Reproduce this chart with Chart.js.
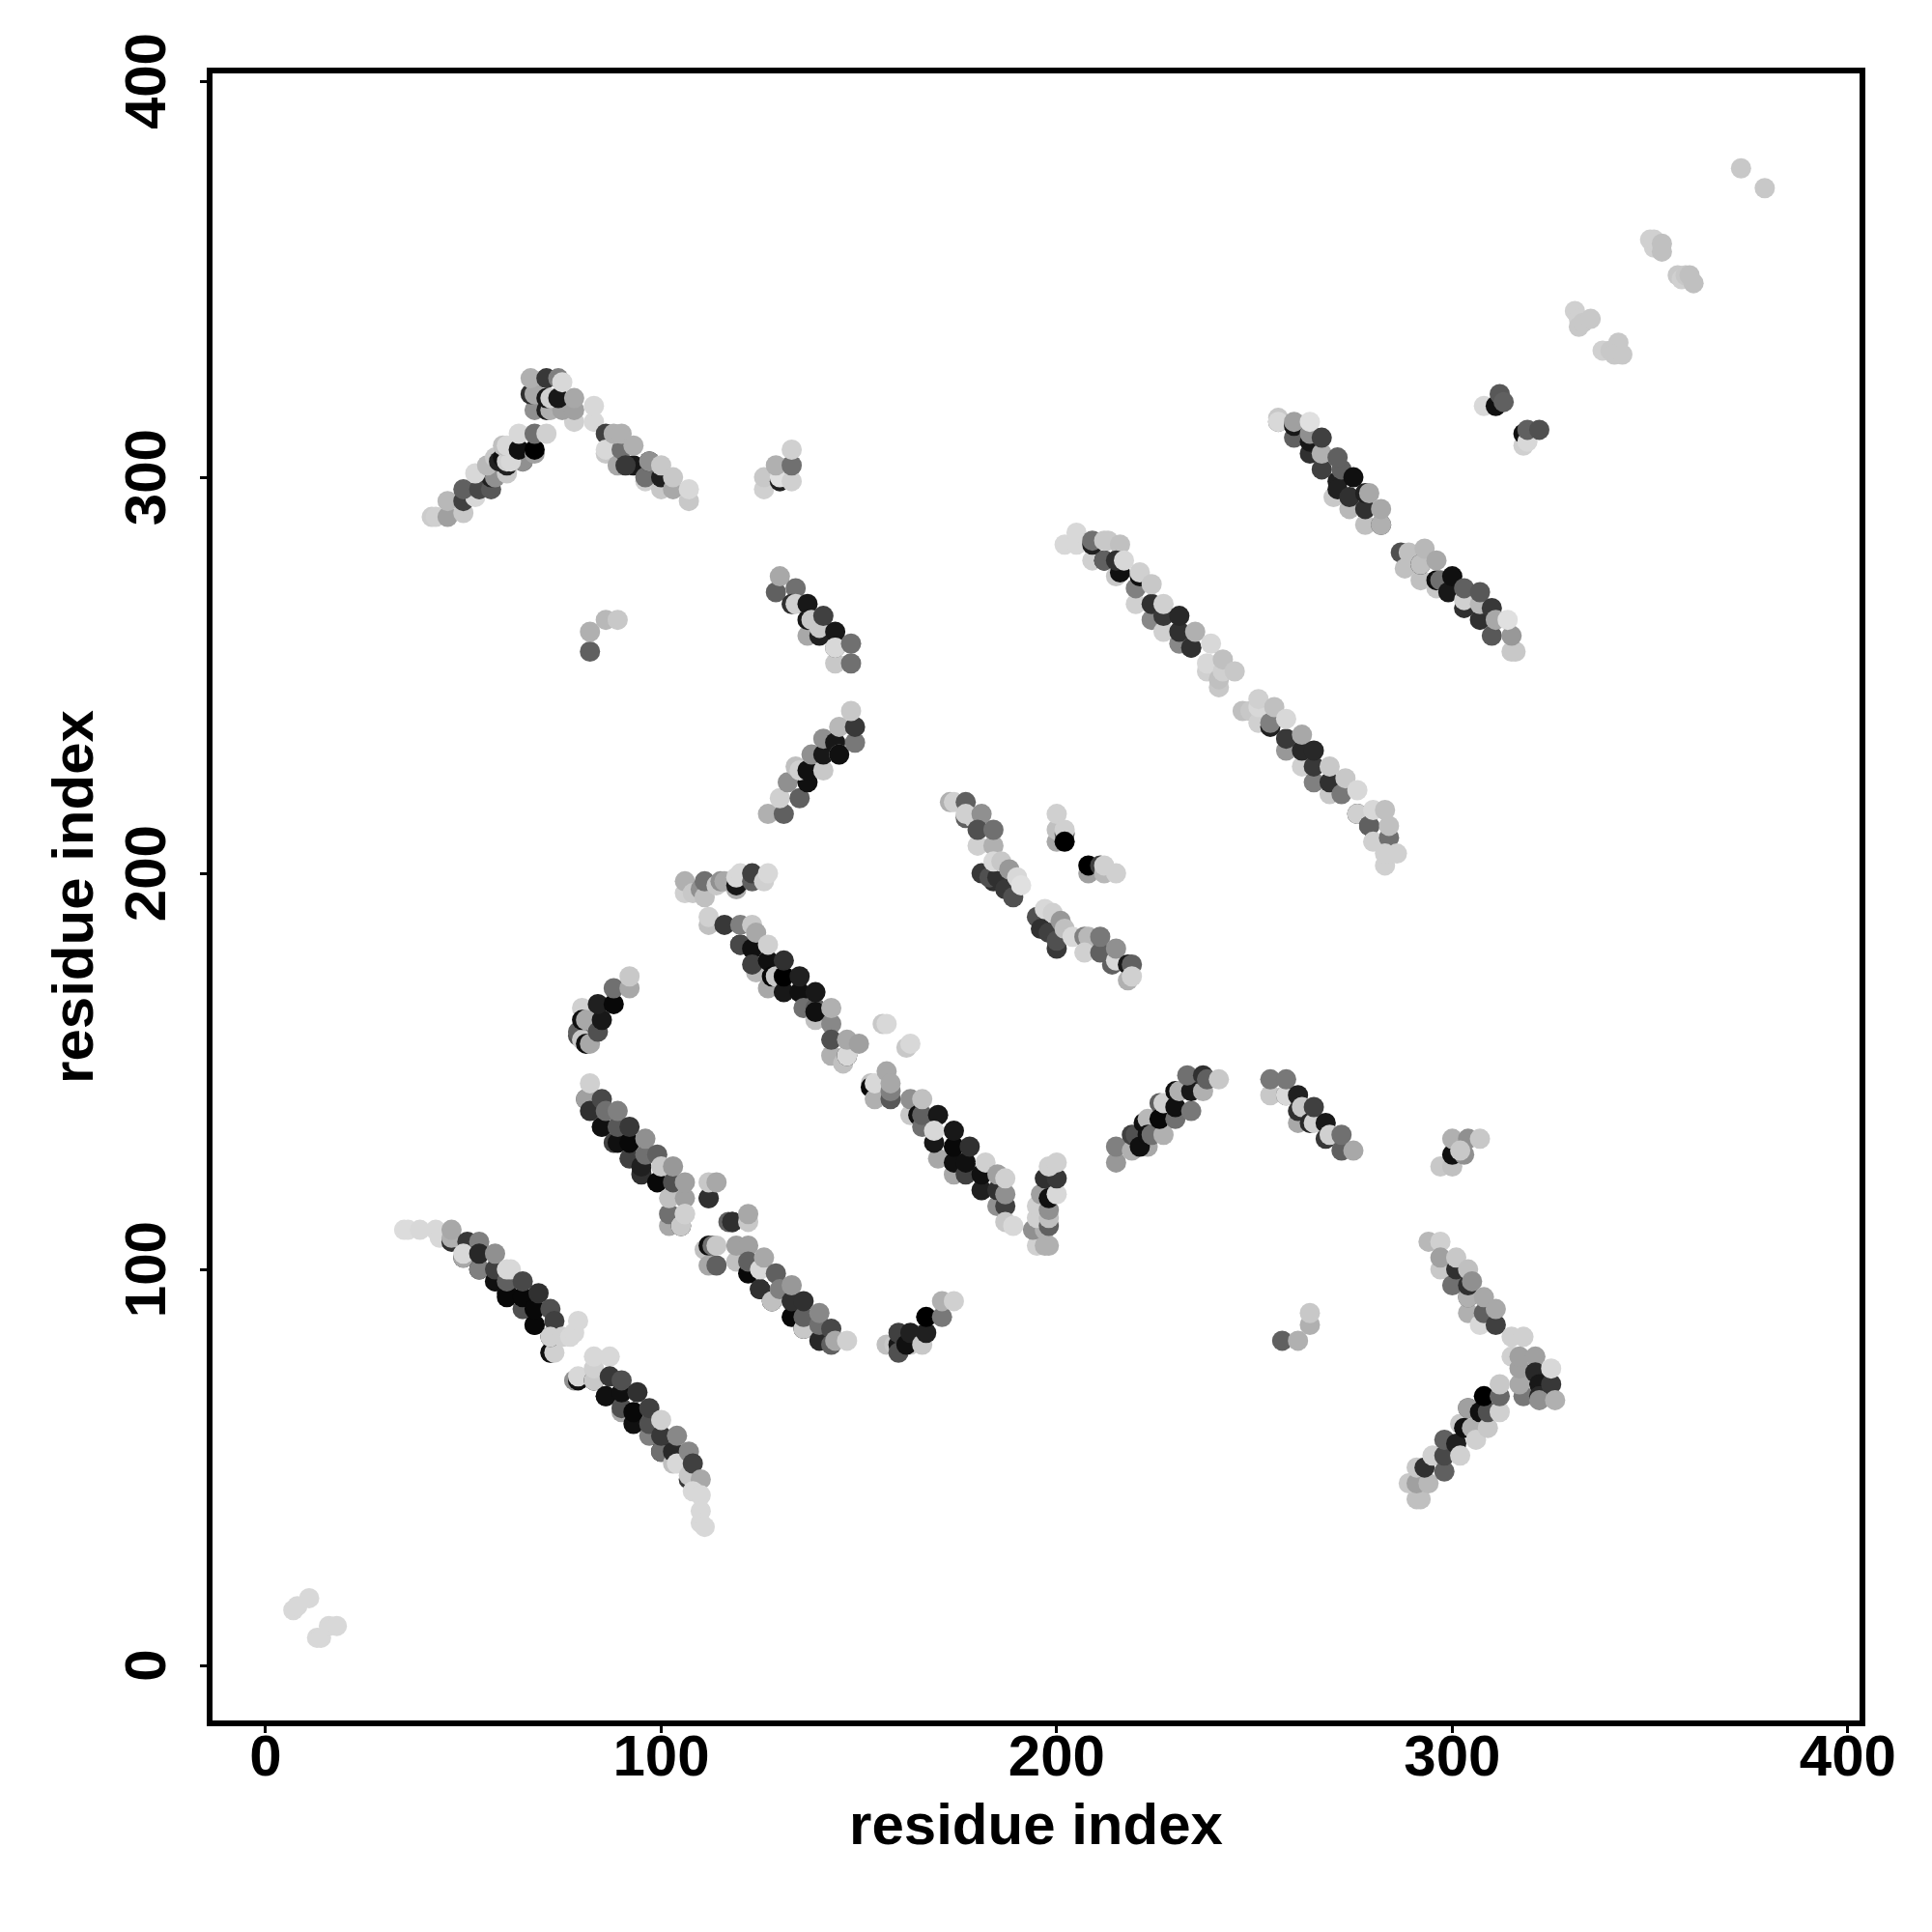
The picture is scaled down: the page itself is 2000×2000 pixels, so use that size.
<!DOCTYPE html>
<html>
<head>
<meta charset="utf-8">
<title>residue contacts</title>
<script src="https://cdn.jsdelivr.net/npm/chart.js@4"></script>
<style>
  html, body { margin: 0; background: #fff; }
  canvas { display: block; }
</style>
</head>
<body>
<canvas id="contacts" width="2000" height="2000"></canvas>
<script>
// every contact is [residue i, residue j, grey level], later ones paint on top
const tickValues = [0, 100, 200, 300, 400];
const axisLabel = "residue index";

const cornerLow = [[7,14,216],[8,15,216],[11,17,216],[13,7,216],[14,7,216],[16,10,216],[18,10,216]];
const riseTopLeft = [[42,290,204],[43,290,208],[46,290,160],[50,291,200],[46,294,184],[50,294,64],[53,295,216],[50,297,96],[54,297,72],[57,297,88],[57,300,32],[58,300,144],[53,301,216],[61,301,200],[61,303,32],[56,303,184],[65,304,80],[65,304,144],[58,305,200],[59,304,32],[60,305,16],[61,304,208],[62,304,216],[60,308,192],[61,308,216],[64,307,16],[68,306,160],[68,307,0],[64,311,216],[68,311,112],[71,311,208]];
const blockTop = [[78,314,208],[83,314,216],[83,318,216],[68,317,144],[71,317,32],[72,317,176],[75,317,160],[78,317,160],[67,321,48],[68,321,168],[71,320,24],[72,320,208],[74,320,24],[78,320,168],[67,325,176],[71,325,56],[74,325,128],[75,324,216]];
const fallTop = [[86,311,64],[86,306,200],[86,307,216],[89,303,168],[90,307,112],[88,311,176],[90,311,176],[93,303,24],[91,303,56],[93,308,176],[96,299,208],[96,300,112],[97,304,32],[97,304,144],[100,297,200],[100,300,32],[100,303,200],[103,297,168],[103,300,200],[107,294,200],[107,297,216]];
const patchTop = [[126,297,208],[126,300,200],[130,299,32],[130,300,224],[129,303,176],[133,299,208],[133,303,112],[133,307,208]];
const patchMid = [[82,256,96],[82,261,176],[86,264,184],[89,264,200]];
const fallMid = [[129,271,96],[130,275,168],[134,272,112],[133,268,48],[134,268,208],[137,268,24],[137,260,168],[137,264,24],[138,264,200],[140,260,32],[140,262,200],[141,265,64],[144,261,24],[144,253,200],[144,257,96],[144,257,216],[148,253,112],[148,258,112]];
const riseMid = [[127,215,176],[131,215,96],[130,219,208],[135,219,96],[132,223,144],[137,223,16],[134,227,192],[135,226,208],[137,226,16],[141,226,200],[138,230,144],[141,230,24],[141,234,144],[144,233,24],[145,230,168],[145,230,16],[145,237,184],[149,233,120],[149,237,56],[148,241,200]];
const fallLowLeft = [[35,110,220],[36,110,220],[39,110,216],[43,110,216],[44,108,216],[47,107,48],[47,108,176],[47,110,168],[51,107,56],[50,103,16],[50,103,168],[50,104,216],[54,107,128],[54,100,16],[54,100,128],[54,104,40],[58,97,144],[58,97,16],[58,100,64],[58,104,144],[61,94,16],[61,93,8],[61,97,96],[62,100,216],[61,100,216],[65,90,184],[65,90,80],[65,93,8],[65,97,72],[68,86,48],[68,86,8],[68,90,8],[69,94,48],[72,90,80],[73,87,64],[72,79,144],[72,79,16],[73,79,208],[72,83,16],[72,83,208],[75,83,208],[77,83,216],[78,84,216],[79,87,216]];
const fallLowRight = [[78,72,144],[79,72,16],[79,73,216],[83,72,8],[83,72,200],[83,75,208],[83,78,216],[87,78,216],[86,68,56],[86,68,16],[87,73,56],[90,64,168],[90,65,80],[90,69,16],[90,72,80],[93,61,16],[93,64,8],[94,69,48],[97,58,128],[97,61,80],[97,65,64],[100,54,16],[100,54,112],[100,58,56],[100,62,208],[103,51,192],[103,54,40],[104,51,216],[104,58,136],[107,47,56],[107,48,200],[107,54,136],[108,51,64],[110,47,168],[108,44,216],[110,43,216],[110,39,216],[110,36,216],[111,35,216]];
const riseLow = [[79,159,80],[79,160,96],[80,158,200],[81,157,16],[82,157,168],[80,166,208],[80,163,16],[81,163,168],[84,160,80],[85,163,24],[84,167,32],[88,167,8],[88,171,112],[92,171,168],[92,174,200]];
const fallCentreA = [[81,143,72],[81,143,160],[82,147,208],[82,140,48],[85,143,72],[85,136,176],[85,136,16],[86,140,112],[88,132,64],[89,132,16],[89,136,88],[89,140,128],[92,128,64],[92,132,8],[92,136,56],[95,124,48],[95,126,32],[96,129,112],[96,133,144],[99,122,8],[99,129,96],[100,126,200],[102,111,168],[102,114,112],[102,118,192],[103,122,80],[103,126,152],[106,118,160],[106,122,160],[105,111,16],[105,111,200],[106,114,208],[106,114,208]];
const patchCentre = [[112,118,96],[112,118,48],[112,122,200],[114,122,168],[117,112,96],[118,112,48],[118,112,48],[122,112,200],[122,114,168]];
const fallCentreB = [[111,105,192],[112,106,16],[113,106,112],[112,101,168],[114,101,96],[114,106,200],[119,102,192],[119,106,160],[122,106,160],[122,99,8],[122,102,96],[125,95,16],[125,95,48],[125,100,216],[126,103,168],[128,92,16],[128,92,192],[129,99,96],[130,95,128],[133,88,8],[133,92,48],[133,96,152],[136,85,16],[136,85,200],[136,88,96],[136,92,48],[140,82,40],[140,86,112],[140,89,136],[143,81,96],[143,85,72],[144,82,168],[147,82,208]];
const riseCentre = [[157,81,192],[159,81,200],[160,81,24],[160,79,80],[160,84,64],[163,81,200],[162,81,16],[163,84,32],[166,81,200],[167,84,32],[167,88,0],[171,88,120],[171,92,176],[174,92,208]];
const shelfCentre = [[106,195,208],[106,198,176],[108,195,200],[110,196,144],[111,194,192],[111,198,112],[114,197,200],[115,198,144],[116,198,168],[119,196,176],[119,197,24],[119,199,216],[120,200,216],[123,198,96],[123,200,64],[126,198,208],[127,200,216]];
const fallUpperA = [[112,187,192],[112,189,208],[116,187,56],[120,182,16],[120,182,72],[120,187,128],[123,181,16],[123,187,200],[124,175,184],[123,177,64],[124,185,168],[127,171,168],[127,178,16],[127,182,208],[128,174,8],[129,174,200],[131,170,24],[131,174,0],[131,178,48],[135,170,16],[135,174,32],[136,166,112],[139,163,192],[139,166,96],[139,165,16],[139,170,24],[143,162,136],[143,166,176]];
const fallUpperB = [[143,154,176],[143,158,80],[146,152,192],[147,154,8],[147,154,216],[147,158,168],[150,157,160]];
const patchFallA = [[156,162,200],[157,162,216],[162,156,200],[163,157,216]];
const fallUpperC = [[153,147,192],[153,146,8],[154,143,176],[154,147,216],[158,143,88],[158,145,128],[157,150,168],[158,147,168],[163,139,200],[163,143,144],[165,139,16],[166,136,112],[166,139,96],[166,143,192],[170,128,168],[169,132,24],[170,139,24],[169,135,216],[174,124,168],[174,127,16],[174,131,8],[174,135,24],[177,124,64],[177,127,16],[178,131,48],[181,120,176],[181,120,32],[181,124,16],[182,127,208],[185,116,144],[185,120,48],[185,124,160],[187,116,64],[187,119,144],[187,112,200],[189,111,216],[187,123,208]];
const stemV = [[195,106,208],[197,106,176],[198,106,176],[194,110,144],[197,110,176],[195,113,208],[198,111,96],[198,113,192],[195,116,208],[198,115,144],[196,119,160],[198,118,16],[200,119,216],[197,123,48],[200,123,56],[198,126,208],[200,127,208]];
const riseRight = [[215,127,152],[215,131,128],[219,130,176],[223,131,168],[219,134,64],[220,134,80],[221,131,16],[222,137,16],[223,138,184],[223,134,16],[224,134,112],[227,134,176],[226,142,96],[226,138,8],[227,142,208],[230,138,112],[230,141,16],[230,145,16],[231,145,176],[234,140,120],[234,145,24],[233,149,112],[237,145,176],[237,149,48],[238,148,96],[241,148,200]];
const fallRight = [[254,144,200],[254,148,120],[258,144,80],[258,144,216],[258,148,120],[261,137,168],[261,140,48],[261,144,32],[262,141,200],[264,137,40],[265,137,208],[265,141,64],[268,133,56],[268,137,24],[269,134,208],[272,130,96],[272,134,112],[275,130,168]];
const patchLowRight = [[257,82,96],[261,82,176],[264,86,176],[264,89,200],[297,126,200],[300,126,192],[300,129,16],[300,133,176],[303,129,144],[304,133,144],[307,133,200],[302,130,200]];
const fallFarRight = [[294,107,184],[297,107,208],[297,100,200],[297,103,160],[300,96,112],[301,100,48],[301,103,200],[304,89,176],[304,93,96],[304,93,176],[304,96,48],[304,100,192],[305,97,144],[307,86,216],[308,89,96],[308,93,168],[311,86,64],[311,90,168],[315,83,208],[318,83,208]];
const elbowRight = [[315,78,208],[318,68,120],[317,71,168],[317,75,160],[317,78,160],[321,78,160],[321,74,40],[322,71,24],[322,68,40],[322,67,144],[325,71,56],[325,75,216],[326,67,176]];
const riseFarRight = [[291,42,192],[292,42,192],[289,46,200],[291,46,160],[294,46,184],[291,50,200],[293,50,48],[295,53,208],[298,49,96],[298,53,72],[298,57,96],[301,56,32],[302,53,208],[302,61,200],[303,60,16],[305,60,176],[306,57,208],[304,65,80],[304,65,160],[307,64,16],[309,60,200],[309,64,80],[308,68,0],[312,64,208],[312,68,104],[312,71,200]];
const fallChainA = [[173,218,176],[174,218,208],[177,214,96],[177,218,96],[177,215,208],[179,214,208],[181,215,144],[180,207,208],[180,211,80],[184,207,176],[184,211,112]];
const patchChain = [[200,208,168],[200,211,192],[200,215,208],[202,210,96],[202,211,208],[202,208,0],[208,200,160],[208,202,0],[211,202,64],[212,200,184],[212,202,208],[215,200,208]];
const fallChainB = [[181,200,56],[184,198,48],[183,199,80],[185,199,48],[187,196,56],[189,194,80],[184,203,216],[186,203,200],[188,201,152],[190,199,216],[191,197,224]];
const fallChainC = [[195,189,80],[196,186,48],[198,185,64],[197,191,216],[199,190,208],[200,181,56],[200,183,80],[201,188,152],[202,186,192],[204,184,216],[207,184,128],[208,184,184],[207,180,208],[211,180,96],[211,184,120],[214,177,96],[215,178,216],[215,181,144],[218,173,176],[218,177,24],[219,177,96],[219,174,208]];
const longFallA = [[202,283,216],[205,283,216],[205,286,216],[209,279,208],[209,283,32],[209,284,112],[212,279,32],[212,279,96],[212,284,200],[213,284,200],[215,275,200],[216,283,192],[216,276,16],[215,279,48],[217,279,216],[220,268,208],[220,272,128],[221,275,16],[221,276,208],[224,264,136],[224,268,48],[224,273,200],[227,261,208],[227,265,56],[227,268,208],[231,258,136],[231,261,48],[231,265,40],[234,257,128],[234,257,48],[235,261,176],[238,251,208],[238,253,216],[239,258,216],[241,247,200],[241,249,192],[242,251,208],[242,254,192],[245,251,200]];
const longFallB = [[247,241,192],[249,241,200],[251,238,208],[251,242,216],[251,244,208],[254,237,32],[254,238,128],[255,242,192],[258,231,152],[258,234,56],[258,239,216],[262,227,208],[262,231,40],[262,235,168],[265,223,128],[265,227,56],[265,231,40],[269,220,200],[269,223,48],[269,227,200],[272,220,120],[273,224,200],[276,215,32],[276,215,208],[276,221,216],[279,212,48],[279,212,96],[280,208,208],[280,216,216],[283,216,192],[284,209,112],[284,212,192],[283,202,208],[283,205,208],[286,205,208]];
const fallTopRight = [[256,314,96],[256,315,200],[256,314,216],[260,310,96],[260,313,24],[260,314,160],[264,306,48],[264,309,24],[264,311,144],[264,314,224],[267,302,64],[267,306,176],[267,310,64],[270,295,200],[271,299,32],[271,297,32],[272,302,96],[271,305,96],[274,292,184],[274,295,48],[275,300,16],[278,288,192],[278,292,48],[278,296,32],[279,296,168],[282,288,64],[282,288,176],[282,292,168]];
const fallBandRight = [[287,281,80],[288,277,192],[289,281,192],[292,274,192],[292,278,32],[292,278,192],[293,282,184],[296,272,200],[296,274,16],[296,279,168],[297,274,112],[299,271,24],[300,275,16],[303,267,48],[303,269,208],[303,272,96],[307,264,48],[307,268,184],[307,271,88],[310,260,88],[310,267,56],[311,264,168],[315,256,200],[316,256,200],[315,260,152],[314,264,224]];
const patchUpRight = [[308,318,216],[311,318,16],[312,321,88],[313,319,96],[318,308,208],[318,311,16],[319,309,216],[319,312,96],[322,312,80]];
const diagonalFar = [[331,342,208],[332,340,208],[332,338,200],[333,339,200],[335,340,200],[338,332,208],[340,332,200],[342,334,200],[341,331,200],[343,331,200],[350,360,208],[351,358,208],[351,360,208],[353,357,192],[353,359,192],[357,351,200],[358,350,208],[359,351,200],[360,351,192],[361,349,192],[373,378,200],[379,373,200]];

const contactGroups = [
  cornerLow, riseTopLeft, blockTop, fallTop, patchTop, patchMid, fallMid, riseMid,
  fallLowLeft, fallLowRight, riseLow, fallCentreA, patchCentre, fallCentreB, riseCentre,
  shelfCentre, fallUpperA, fallUpperB, patchFallA, fallUpperC, stemV, riseRight, fallRight,
  patchLowRight, fallFarRight, elbowRight, riseFarRight, fallChainA, patchChain, fallChainB,
  fallChainC, longFallA, longFallB, fallTopRight, fallBandRight, patchUpRight, diagonalFar,
];

const contacts = contactGroups.flat();

const frame = {
  id: "frame",
  afterDatasetsDraw(chart) {
    const { ctx, chartArea: a } = chart;
    ctx.save();
    ctx.strokeStyle = "#000";
    ctx.lineWidth = 6;
    ctx.lineJoin = "miter";
    ctx.strokeRect(a.left, a.top, a.right - a.left, a.bottom - a.top);
    ctx.restore();
  },
};

function axisOptions(min, max) {
  return {
    type: "linear",
    min,
    max,
    afterBuildTicks: (axis) => {
      axis.ticks = tickValues.map((value) => ({ value }));
    },
    grid: { drawOnChartArea: false, drawTicks: true, tickLength: 10, tickWidth: 3, tickColor: "#000" },
    border: { display: false },
    ticks: {
      autoSkip: false,
      color: "#000",
      font: { family: "Liberation Sans", size: 60, weight: "bold" },
      callback: (v) => String(v),
    },
    title: {
      display: true,
      text: axisLabel,
      color: "#000",
      font: { family: "Liberation Sans", size: 60, weight: "bold" },
    },
  };
}

const xAxis = axisOptions(-14.16, 403.7);
xAxis.ticks.maxRotation = 0;
xAxis.ticks.padding = -9;
xAxis.title.padding = { top: 72, bottom: 72 };
xAxis.afterFit = (axis) => { axis.height = 216; };

const yAxis = axisOptions(-14.6, 402.7);
yAxis.ticks.minRotation = 90;
yAxis.ticks.maxRotation = 90;
yAxis.ticks.crossAlign = "center";
yAxis.ticks.padding = 2;
yAxis.title.padding = { top: 43, bottom: 43 };
yAxis.afterFit = (axis) => { axis.width = 217; };

new Chart(document.getElementById("contacts"), {
  type: "scatter",
  data: {
    datasets: [
      {
        data: contacts.map((c) => ({ x: c[0], y: c[1] })),
        pointRadius: 10.5,
        pointBorderWidth: 0,
        pointBackgroundColor: contacts.map((c) => `rgb(${c[2]},${c[2]},${c[2]})`),
      },
    ],
  },
  options: {
    responsive: false,
    animation: false,
    layout: { padding: { top: 73, right: 72, left: 0, bottom: 0 } },
    plugins: { legend: { display: false }, tooltip: { enabled: false } },
    scales: { x: xAxis, y: yAxis },
  },
  plugins: [frame],
});
</script>
</body>
</html>
